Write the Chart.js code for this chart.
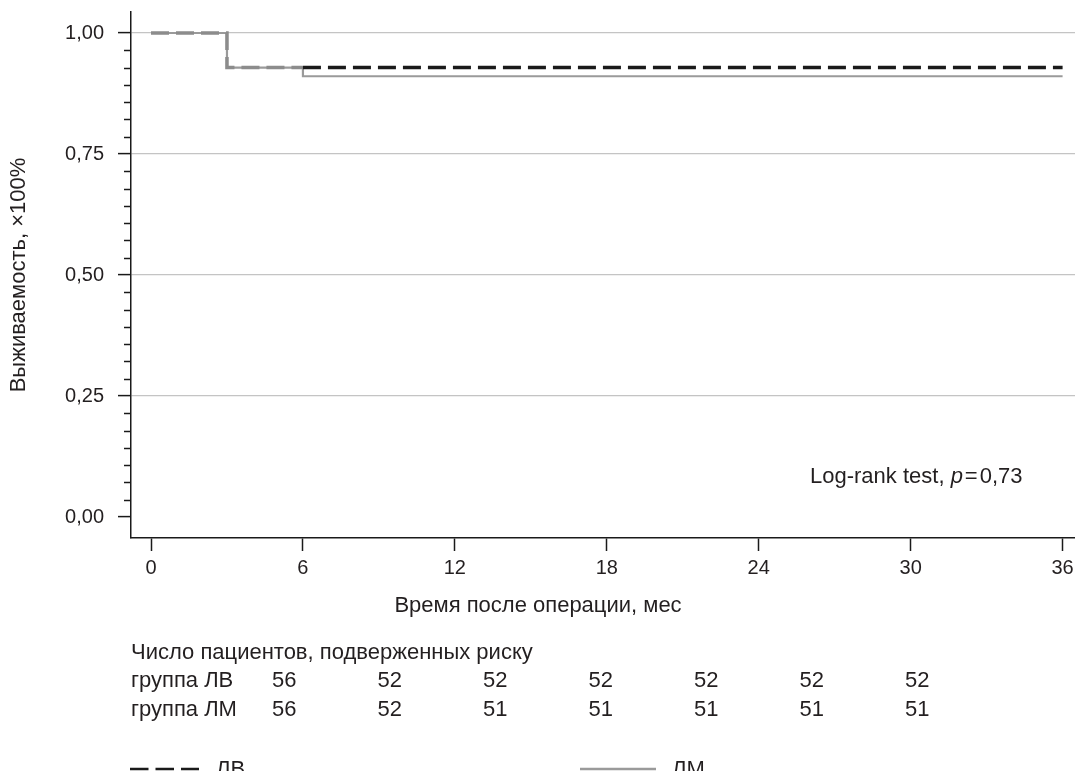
<!DOCTYPE html>
<html>
<head>
<meta charset="utf-8">
<script src="https://cdn.jsdelivr.net/npm/chart.js@4.4.1/dist/chart.umd.min.js"></script>
<style>
  html, body { margin: 0; padding: 0; background: #ffffff; }
  #wrap { width: 1075px; height: 771px; position: relative; }
</style>
</head>
<body>
<div id="wrap"><canvas id="c" width="1075" height="771"></canvas></div>
<script>
// ---- Data ----
const timeTicks = [0, 6, 12, 18, 24, 30, 36];
const yMajorTicks = [0, 0.25, 0.5, 0.75, 1];

const lvTimes = [0, 3, 6, 36];
const lvSurvival = [1.0, 0.9286, 0.9286, 0.9286];

const lmTimes = [0, 3, 6, 36];
const lmSurvival = [1.0, 0.9286, 0.9107, 0.9107];

const riskTitle = 'Число пациентов, подверженных риску';
const groupLabels = ['группа ЛВ', 'группа ЛМ'];
const riskLV = [56, 52, 52, 52, 52, 52, 52];
const riskLM = [56, 52, 51, 51, 51, 51, 51];

const seriesNames = ['ЛВ', 'ЛМ'];
const yTitle = 'Выживаемость, ×100%';
const xTitle = 'Время после операции, мес';
const pValueText = '0,73';

// ---- Styling ----
const FONT = "'Liberation Sans', Arial, Helvetica, sans-serif";
const TEXT = '#231f20';
const DARK = '#1a1a1a';
const GRAY = '#9a9a9a';
const MINOR_PER_MAJOR = 7;

const lvData = lvTimes.map((t, i) => ({ x: t, y: lvSurvival[i] }));
const lmData = lmTimes.map((t, i) => ({ x: t, y: lmSurvival[i] }));

function fmt(v) { return v.toFixed(2).replace('.', ','); }
function isMajor(v) { return Math.abs(Math.round(v * 4) - v * 4) < 1e-6; }

const extras = {
  id: 'extras',
  afterDraw(chart) {
    const ctx = chart.ctx;
    const ys = chart.scales.y;
    const area = chart.chartArea;
    ctx.save();
    // minor ticks on y axis
    ctx.strokeStyle = DARK;
    ctx.lineWidth = 1.5;
    ys.ticks.forEach(t => {
      if (!isMajor(t.value)) {
        const py = Math.round(ys.getPixelForValue(t.value)) + 0.5;
        ctx.beginPath();
        ctx.moveTo(area.left - 7, py);
        ctx.lineTo(area.left, py);
        ctx.stroke();
      }
    });

    ctx.fillStyle = TEXT;
    ctx.textBaseline = 'alphabetic';
    ctx.textAlign = 'left';

    // x axis title
    ctx.font = '22px ' + FONT;
    ctx.textAlign = 'center';
    ctx.fillText(xTitle, 538, 612);
    ctx.textAlign = 'left';

    // log-rank text
    ctx.font = '22px ' + FONT;
    let x = 810, y = 483;
    const part1 = 'Log-rank test, ';
    ctx.fillText(part1, x, y);
    x += ctx.measureText(part1).width;
    ctx.font = 'italic 22px ' + FONT;
    ctx.fillText('p', x, y);
    x += ctx.measureText('p').width + 2;
    ctx.font = '22px ' + FONT;
    ctx.fillText('=', x, y);
    x += ctx.measureText('=').width + 2;
    ctx.fillText(pValueText, x, y);

    // risk table
    ctx.font = '22px ' + FONT;
    ctx.fillText(riskTitle, 131, 659);
    const rows = [riskLV, riskLM];
    const rowY = [687, 716];
    const colX0 = 272, colStep = 105.5;
    rows.forEach((r, ri) => {
      ctx.fillText(groupLabels[ri], 131, rowY[ri]);
      r.forEach((n, ci) => ctx.fillText(String(n), colX0 + ci * colStep, rowY[ri]));
    });

    // legend
    const ly = 769;
    ctx.strokeStyle = DARK;
    ctx.lineWidth = 2.5;
    ctx.setLineDash([18.5, 7]);
    ctx.beginPath(); ctx.moveTo(130, ly); ctx.lineTo(199, ly); ctx.stroke();
    ctx.setLineDash([]);
    ctx.fillText(seriesNames[0], 216, 776);
    ctx.strokeStyle = GRAY;
    ctx.lineWidth = 2.5;
    ctx.beginPath(); ctx.moveTo(580, ly); ctx.lineTo(656, ly); ctx.stroke();
    ctx.fillText(seriesNames[1], 672, 776);
    ctx.restore();
  }
};

new Chart(document.getElementById('c'), {
  type: 'line',
  data: {
    datasets: [
      {
        label: seriesNames[1],
        data: lmData,
        stepped: true,
        borderColor: GRAY,
        borderWidth: 2.2,
        pointRadius: 0,
        fill: false,
        order: 2
      },
      {
        label: seriesNames[0],
        data: lvData,
        stepped: true,
        borderColor: DARK,
        borderWidth: 3.5,
        borderDash: [18, 7],
        pointRadius: 0,
        fill: false,
        order: 1,
        segment: {
          borderColor: c => (c.p0.parsed.x < 6 ? '#8c8c8c' : DARK)
        }
      }
    ]
  },
  options: {
    responsive: false,
    animation: false,
    devicePixelRatio: 1,
    layout: { padding: { top: 12, right: 0, bottom: 151, left: 0 } },
    plugins: { legend: { display: false }, tooltip: { enabled: false } },
    scales: {
      x: {
        type: 'linear',
        min: -0.79,
        max: 36.49,
        afterBuildTicks: s => { s.ticks = timeTicks.map(v => ({ value: v })); },
        afterFit: s => { s.height = 82; s.paddingLeft = 0; s.paddingRight = 0; },
        ticks: {
          autoSkip: false,
          maxRotation: 0,
          padding: 5,
          color: TEXT,
          font: { family: FONT, size: 20 },
          callback: v => String(v)
        },
        grid: { drawOnChartArea: false, drawTicks: true, tickLength: 13, tickColor: DARK, tickWidth: 1.5 },
        border: { display: true, color: DARK, width: 1.5 },
        title: { display: false }
      },
      y: {
        type: 'linear',
        min: -0.0434,
        max: 1.0434,
        afterBuildTicks: s => {
          const arr = [];
          for (let k = 0; k <= 4 * MINOR_PER_MAJOR; k++) arr.push({ value: k / (4 * MINOR_PER_MAJOR) });
          s.ticks = arr;
        },
        afterFit: s => { s.width = 131; s.paddingTop = 0; s.paddingBottom = 0; },
        ticks: {
          autoSkip: false,
          padding: 14,
          color: TEXT,
          font: { family: FONT, size: 20 },
          callback: v => (isMajor(v) ? fmt(v) : '')
        },
        grid: {
          drawOnChartArea: true,
          drawTicks: true,
          tickLength: 13,
          tickWidth: 1.5,
          lineWidth: 1.2,
          color: c => (c.tick && isMajor(c.tick.value) && c.tick.value > 0.01 ? '#c4c4c4' : 'rgba(0,0,0,0)'),
          tickColor: c => (c.tick && isMajor(c.tick.value) ? DARK : 'rgba(0,0,0,0)')
        },
        border: { display: true, color: DARK, width: 1.5 },
        title: {
          display: true,
          text: yTitle,
          color: TEXT,
          font: { family: FONT, size: 22 },
          padding: { top: 6, bottom: 0 }
        }
      }
    }
  },
  plugins: [extras]
});
</script>
</body>
</html>
